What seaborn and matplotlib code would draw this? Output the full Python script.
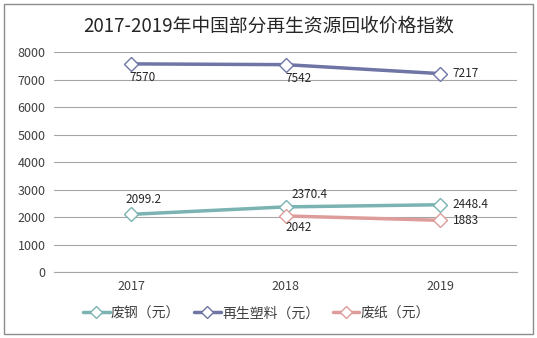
import matplotlib
matplotlib.use("Agg")
import matplotlib.pyplot as plt
import seaborn as sns
import pandas as pd
from matplotlib.patches import Rectangle

sns.set_theme(style="white")
plt.rcParams['font.family'] = ['Noto Sans CJK SC', 'DejaVu Sans']

years = ["2017", "2018", "2019"]
steel = [2099.2, 2370.4, 2448.4]
plastic = [7570, 7542, 7217]
paper_years = ["2018", "2019"]
paper = [2042, 1883]
series_names = ["废钢（元）", "再生塑料（元）", "废纸（元）"]
title = "2017-2019年中国部分再生资源回收价格指数"
yticks = [0, 1000, 2000, 3000, 4000, 5000, 6000, 7000, 8000]

colors = ["#7AB3B2", "#6F76A5", "#DE9C9A"]

df = pd.concat([
    pd.DataFrame({"year": years, "value": steel, "series": series_names[0]}),
    pd.DataFrame({"year": years, "value": plastic, "series": series_names[1]}),
    pd.DataFrame({"year": paper_years, "value": paper, "series": series_names[2]}),
])
df["x"] = df["year"].map({y: i for i, y in enumerate(years)})

fig = plt.figure(figsize=(5.37, 3.38), dpi=100)
ax = fig.add_axes([0.1006, 0.195, 0.8624, 0.651])

sns.lineplot(data=df, x="x", y="value", hue="series", palette=colors,
             hue_order=series_names, marker="D", markersize=7,
             markerfacecolor="white", markeredgewidth=1.0, linewidth=2.5,
             ax=ax, legend=True)
for line, c in zip(ax.lines, colors):
    line.set_markeredgecolor(c)

ax.set_xlim(-0.5, 2.5)
ax.set_ylim(0, 8000)
ax.set_yticks(yticks)
ax.set_yticklabels([str(v) for v in yticks])
ax.set_xticks(range(len(years)))
ax.set_xticklabels(years)
ax.tick_params(axis="both", labelsize=9, colors="#404040", length=0, pad=6)
ax.set_xlabel("")
ax.set_ylabel("")
ax.yaxis.grid(True, color="#A6A6A6", linewidth=0.8)
ax.set_axisbelow(True)
for s in ["left", "right", "top"]:
    ax.spines[s].set_visible(False)
ax.spines["bottom"].set_color("#A6A6A6")
ax.spines["bottom"].set_linewidth(0.8)

fs = 8.5
txtc = "#262626"
# steel labels
ax.annotate("2099.2", (0, steel[0]), xytext=(-4, 6), textcoords="offset points", ha="left", va="bottom", fontsize=fs, color=txtc)
ax.annotate("2370.4", (1, steel[1]), xytext=(4, 4), textcoords="offset points", ha="left", va="bottom", fontsize=fs, color=txtc)
ax.annotate("2448.4", (2, steel[2]), xytext=(9, 0), textcoords="offset points", ha="left", va="center", fontsize=fs, color=txtc)
# plastic labels
ax.annotate("7570", (0, plastic[0]), xytext=(-1, -5), textcoords="offset points", ha="left", va="top", fontsize=fs, color=txtc)
ax.annotate("7542", (1, plastic[1]), xytext=(0, -5), textcoords="offset points", ha="left", va="top", fontsize=fs, color=txtc)
ax.annotate("7217", (2, plastic[2]), xytext=(9, 0), textcoords="offset points", ha="left", va="center", fontsize=fs, color=txtc)
# paper labels
ax.annotate("2042", (1, paper[0]), xytext=(0, -4), textcoords="offset points", ha="left", va="top", fontsize=fs, color=txtc)
ax.annotate("1883", (2, paper[1]), xytext=(9, 0), textcoords="offset points", ha="left", va="center", fontsize=fs, color=txtc)

handles, labels = ax.get_legend_handles_labels()
ax.get_legend().remove()
leg = fig.legend(handles, labels, loc="center", bbox_to_anchor=(0.478, 0.073), ncol=3,
                 frameon=False, fontsize=10, handlelength=1.9, columnspacing=1.0,
                 handletextpad=0.1)
for t in leg.get_texts():
    t.set_color("#404040")
for h, c in zip(leg.legend_handles, colors):
    h.set_markerfacecolor("white")
    h.set_markeredgecolor(c)
    h.set_markersize(6)

fig.text(0.5, 0.922, title, ha="center", va="center", fontsize=13.5,
         color="#262626")

fig.patches.append(Rectangle((0.007, 0.012), 0.986, 0.976, transform=fig.transFigure,
                             fill=False, edgecolor="#8C8C8C", linewidth=1.0))

fig.savefig("out.png", dpi=100)
